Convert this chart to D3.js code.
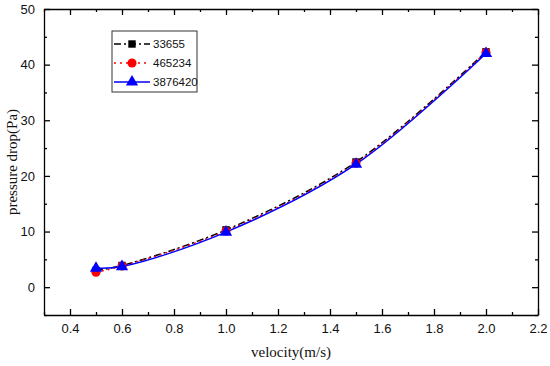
<!DOCTYPE html>
<html>
<head>
<meta charset="utf-8">
<script src="https://cdn.jsdelivr.net/npm/d3@7"></script>
<style>
  body { margin: 0; background: #fff; }
  svg { display: block; }
</style>
</head>
<body>
<svg id="chart" width="550" height="366"></svg>
<script>
// velocities (m/s) and pressure drop (Pa) for each mesh size
const velocity = [0.5, 0.6, 1.0, 1.5, 2.0];
const mesh33655 = [3.0, 3.9, 10.3, 22.5, 42.3];
const mesh465234 = [2.7, 3.8, 10.1, 22.3, 42.2];
const mesh3876420 = [3.4, 3.7, 9.9, 22.1, 42.0];
const seriesNames = ["33655", "465234", "3876420"];
const xTicks = [0.4, 0.6, 0.8, 1.0, 1.2, 1.4, 1.6, 1.8, 2.0, 2.2];
const yTicks = [0, 10, 20, 30, 40, 50];

const width = 550, height = 366;
const margins = {top: 9, right: 12, bottom: 51, left: 44};
const chart_width = width - margins.left - margins.right;
const chart_height = height - margins.top - margins.bottom;

const svg = d3.select("#chart");
const chart = svg.append("g")
  .attr("transform", `translate(${margins.left}, ${margins.top})`);

const x_scale = d3.scaleLinear().domain([0.3, 2.2]).range([0, chart_width]);
const y_scale = d3.scaleLinear().domain([-5, 50]).range([chart_height, 0]);

const xMinor = d3.range(0.3, 2.21, 0.1).map(d => +d.toFixed(1)).filter(d => !xTicks.includes(d));
const yMinor = d3.range(-5, 51, 5).filter(d => !yTicks.includes(d));

// axes: major + minor ticks pointing inward on all four sides
function drawAxis(axisFn, scale, major, minor, transform, labels) {
  const g = chart.append("g").attr("transform", transform);
  g.call(axisFn(scale).tickValues(major).tickSizeInner(-6).tickSizeOuter(0)
    .tickPadding(labels ? 9 : 0).tickFormat(labels ? labels : ""));
  g.append("g").call(axisFn(scale).tickValues(minor).tickSizeInner(-3).tickSizeOuter(0).tickFormat(""))
    .select(".domain").remove();
  g.selectAll("line").attr("stroke", "#000").attr("stroke-width", 1.3);
  g.selectAll(".domain").attr("stroke", "#000").attr("stroke-width", 1.3);
  g.selectAll("text").attr("font-family", "Liberation Sans, Arial, sans-serif")
    .attr("font-size", 13).attr("fill", "#111");
  return g;
}
drawAxis(d3.axisBottom, x_scale, xTicks, xMinor, `translate(0, ${chart_height})`, d3.format(".1f"));
drawAxis(d3.axisTop, x_scale, xTicks, xMinor, "translate(0, 0)", null);
drawAxis(d3.axisLeft, y_scale, yTicks, yMinor, "translate(0, 0)", d3.format("d"));
drawAxis(d3.axisRight, y_scale, yTicks, yMinor, `translate(${chart_width}, 0)`, null);

// axis titles
svg.append("text")
  .attr("text-anchor", "middle")
  .attr("x", 291)
  .attr("y", 357)
  .attr("font-family", "Liberation Serif, Times New Roman, serif")
  .attr("font-size", 15)
  .attr("fill", "#111")
  .text("velocity(m/s)");

svg.append("text")
  .attr("text-anchor", "middle")
  .attr("transform", "translate(17, 162) rotate(-90)")
  .attr("font-family", "Liberation Serif, Times New Roman, serif")
  .attr("font-size", 15)
  .attr("fill", "#111")
  .text("pressure drop(Pa)");

const series = [
  {name: seriesNames[0], values: mesh33655, color: "#000", dash: "7,3,2,3", marker: "square"},
  {name: seriesNames[1], values: mesh465234, color: "red", dash: "2,4", marker: "circle"},
  {name: seriesNames[2], values: mesh3876420, color: "blue", dash: null, marker: "triangle"}
];

const line = d3.line()
  .x((d, i) => x_scale(velocity[i]))
  .y(d => y_scale(d))
  .curve(d3.curveCatmullRom.alpha(0.5));

const symbolType = {square: d3.symbolSquare, circle: d3.symbolCircle, triangle: d3.symbolTriangle};
const symbolSize = {square: 55, circle: 65, triangle: 65};

series.forEach(s => {
  chart.append("path")
    .attr("d", line(s.values))
    .attr("fill", "none")
    .attr("stroke", s.color)
    .attr("stroke-width", 1.5)
    .attr("stroke-dasharray", s.dash);
});

series.forEach(s => {
  chart.selectAll(null)
    .data(s.values)
    .enter()
    .append("path")
    .attr("transform", (d, i) => `translate(${x_scale(velocity[i])}, ${y_scale(d)})`)
    .attr("d", d3.symbol().type(symbolType[s.marker]).size(symbolSize[s.marker]))
    .attr("fill", s.color);
});

// legend
const legend = svg.append("g").attr("transform", "translate(112, 31)");
legend.append("rect")
  .attr("width", 85).attr("height", 61)
  .attr("fill", "#fff").attr("stroke", "#333").attr("stroke-width", 1);

series.forEach((s, i) => {
  const yy = 13 + i * 19;
  legend.append("line")
    .attr("x1", 2).attr("x2", 38).attr("y1", yy).attr("y2", yy)
    .attr("stroke", s.color).attr("stroke-width", 1.5)
    .attr("stroke-dasharray", s.dash);
  legend.append("path")
    .attr("transform", `translate(20, ${yy})`)
    .attr("d", d3.symbol().type(symbolType[s.marker]).size(symbolSize[s.marker]))
    .attr("fill", s.color);
  legend.append("text")
    .attr("x", 41).attr("y", yy + 4)
    .attr("font-family", "Liberation Sans, Arial, sans-serif")
    .attr("font-size", 11.5)
    .attr("fill", "#111")
    .text(s.name);
});
</script>
</body>
</html>
